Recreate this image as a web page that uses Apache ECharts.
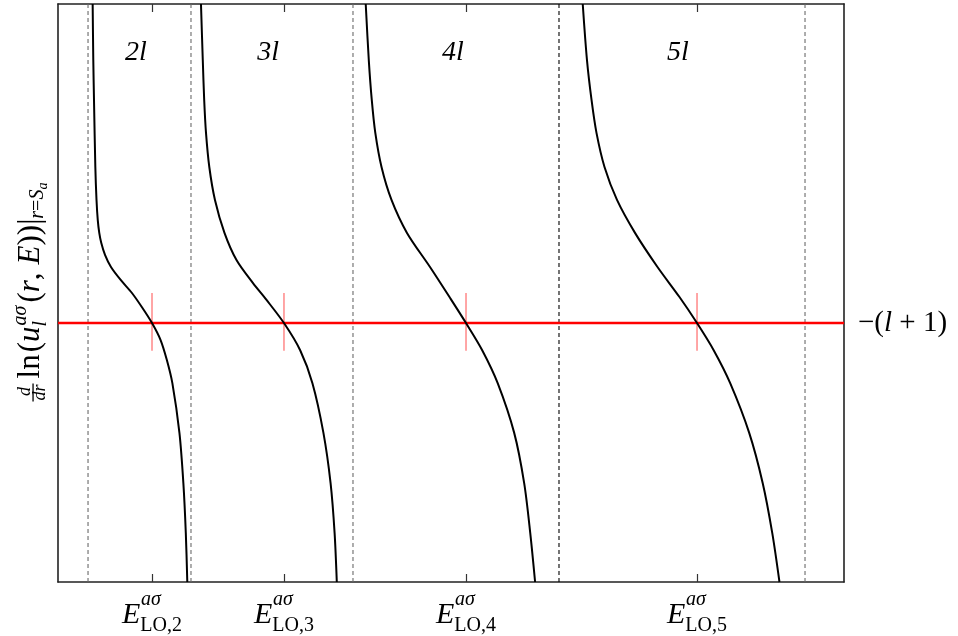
<!DOCTYPE html>
<html>
<head>
<meta charset="utf-8">
<script src="https://cdn.jsdelivr.net/npm/echarts@6/dist/echarts.min.js"></script>
<style>
  html, body { margin: 0; padding: 0; background: #fff; }
  #chart { width: 958px; height: 636px; }
</style>
</head>
<body>
<div id="chart"></div>
<script>
// Energies of the LO reference points (where each branch meets the -(l+1) level)
const loEnergies = [11.96, 28.75, 51.91, 81.30];
const loIndex = ['2', '3', '4', '5'];
// Poles of the logarithmic derivative (dashed verticals)
const poles = [3.82, 16.92, 37.53, 63.74, 95.04];
const poleDark = [false, false, false, true, false];
// Shell labels written inside the plot
const shellLabels = ['2l', '3l', '4l', '5l'];
const shellLabelE = [9.92, 26.72, 50.25, 78.88];
const shellLabelLevel = 4.15;
// Level -(l+1)
const refLevel = -0.52;
// Extent of the small red markers at each crossing
const markerTop = 0.0;
const markerBottom = -1.0;

// Branches of d/dr ln(u) as a function of energy: [E, value]
const branch2 = [[4.41, 5], [4.49, 4.03], [4.58, 3.34], [4.75, 2.18], [4.90, 1.61], [5.06, 1.26], [5.25, 1.04],
  [5.50, 0.87], [5.98, 0.66], [6.74, 0.45], [7.95, 0.23], [9.41, 0], [10.75, -0.26], [11.96, -0.52], [13.04, -0.81],
  [13.85, -1.16], [14.55, -1.56], [15.45, -2.42], [15.95, -3.29], [16.26, -4.15], [16.45, -5]];
const branch3 = [[18.19, 5], [18.42, 4.03], [18.60, 3.34], [18.83, 2.77], [19.25, 2.18], [19.97, 1.61], [21.18, 1.04],
  [22.71, 0.57], [24.81, 0.17], [26.53, -0.12], [28.75, -0.52], [30.81, -0.99], [32.37, -1.56], [33.77, -2.42],
  [34.68, -3.29], [35.19, -4.15], [35.47, -5]];
const branch4 = [[39.15, 5], [39.54, 4.03], [39.92, 3.34], [40.37, 2.77], [41.16, 2.18], [42.43, 1.61], [44.40, 1.04],
  [47.33, 0.45], [49.81, -0.07], [51.91, -0.52], [53.97, -0.99], [55.94, -1.56], [58.04, -2.42], [59.31, -3.29],
  [60.08, -4.15], [60.70, -5]];
const branch5 = [[66.76, 5], [67.30, 4.03], [67.88, 3.34], [68.51, 2.77], [69.53, 2.18], [71.12, 1.61], [73.41, 1.04],
  [76.27, 0.45], [79.07, -0.07], [81.30, -0.52], [83.42, -0.99], [85.52, -1.56], [87.94, -2.42], [89.66, -3.29],
  [90.87, -4.15], [91.79, -5]];

const E_MIN = 0, E_MAX = 100, Y_MIN = -5, Y_MAX = 5;
const SERIF = '"Liberation Serif", "Times New Roman", serif';

// Vertical axis title built from pieces so the fraction and the stacked
// super/subscripts sit where they belong; widths come from the real font.
function buildYTitle() {
  const ctx = document.createElement('canvas').getContext('2d');
  const fontOf = (fs, it) => (it ? 'italic ' : '') + fs + 'px ' + SERIF;
  const width = (t, fs, it) => { ctx.font = fontOf(fs, it); return ctx.measureText(t).width; };
  const kids = [];
  let x = 0;
  const put = (t, fs, it, base, advance = true, at) => {
    const px = at === undefined ? x : at;
    kids.push({
      type: 'text', x: px, y: base - 0.34 * fs,
      style: { text: t, font: fontOf(fs, it), fill: '#000', align: 'left', verticalAlign: 'middle',
        textAlign: 'left', textVerticalAlign: 'middle' }
    });
    const w = width(t, fs, it);
    if (advance) x = px + w;
    return w;
  };
  const M = 31, S = 20, F = 18;
  // d/dr fraction
  const dw = width('dr', F, true);
  put('d', F, true, -10, false, 1 + (dw - width('d', F, true)) / 2 + 1);
  put('dr', F, true, 5, false, 1);
  kids.push({ type: 'rect', shape: { x: 0, y: -8.6, width: dw + 2, height: 1.3 }, style: { fill: '#000' } });
  x = dw + 2 + 5;
  put('ln', M, false, 0);
  x += 2;
  put('(', M, false, 0);
  put('u', M, true, 0);
  const s0 = x;
  const wa = put('aσ', S, true, -13, false, s0 + 1);
  const wl = put('l', S, true, 7, false, s0);
  x = s0 + Math.max(wa + 1, wl) + 3;
  put('(', M, false, 0);
  put('r', M, true, 0);
  put(',', M, false, 0);
  x += 8;
  put('E', M, true, 0);
  put('))', M, false, 0);
  put('|', M, false, 0);
  put('r', S, true, 4);
  put('=', S, false, 4);
  put('S', S, true, 4);
  put('a', 14, true, 7);
  return { type: 'group', x: 41, y: 292 + x / 2, rotation: Math.PI / 2, children: kids };
}

const labelFor = (v) => {
  let k = 0;
  loEnergies.forEach((e, i) => { if (Math.abs(e - v) < Math.abs(loEnergies[k] - v)) k = i; });
  return loIndex[k];
};

const branchSeries = [branch2, branch3, branch4, branch5].map((d, i) => ({
  name: 'branch' + (i + 2), type: 'line', data: d, showSymbol: false, smooth: 0.3,
  lineStyle: { color: '#000', width: 2 }, z: 5, silent: true
}));

const poleSeries = poles.map((p, i) => ({
  type: 'line', data: [[p, Y_MIN], [p, Y_MAX]], showSymbol: false, silent: true, z: 1,
  lineStyle: { color: poleDark[i] ? '#000' : '#6a6a6a', width: 1.1, type: [4, 3] }
}));

const markerSeries = loEnergies.map((e) => ({
  type: 'line', data: [[e, markerTop], [e, markerBottom]], showSymbol: false, silent: true, z: 2,
  lineStyle: { color: '#ff6a6a', width: 1.2 }
}));

const option = {
  animation: false,
  backgroundColor: '#fff',
  grid: { left: 58, right: 114, top: 4, bottom: 54 },
  xAxis: [
    {
      type: 'value', position: 'bottom', min: E_MIN, max: E_MAX,
      axisLine: { onZero: false, lineStyle: { color: '#222', width: 1.6 } },
      axisTick: { show: true, inside: true, length: 8, customValues: loEnergies, lineStyle: { color: '#333', width: 1.2 } },
      splitLine: { show: false },
      axisLabel: {
        show: true, customValues: loEnergies, margin: 12,
        formatter: (v) => '{sup|aσ}\n{E|E}{sub|LO,' + labelFor(v) + '}',
        rich: {
          sup: { fontFamily: SERIF, fontStyle: 'italic', fontSize: 20, color: '#000', align: 'left', padding: [0, 0, 0, 19], lineHeight: 12 },
          E: { fontFamily: SERIF, fontStyle: 'italic', fontSize: 30, color: '#000', lineHeight: 30, verticalAlign: 'bottom', padding: [0, 0, 6, 0] },
          sub: { fontFamily: SERIF, fontSize: 20, color: '#000', lineHeight: 20, verticalAlign: 'bottom' }
        }
      }
    },
    {
      type: 'value', position: 'top', min: E_MIN, max: E_MAX,
      axisLine: { onZero: false, lineStyle: { color: '#222', width: 1.6 } },
      axisTick: { show: true, inside: true, length: 8, customValues: loEnergies, lineStyle: { color: '#333', width: 1.2 } },
      splitLine: { show: false },
      axisLabel: { show: false }
    }
  ],
  yAxis: [
    {
      type: 'value', position: 'left', min: Y_MIN, max: Y_MAX,
      axisLine: { show: true, onZero: false, lineStyle: { color: '#222', width: 1.6 } },
      axisTick: { show: false }, axisLabel: { show: false }, splitLine: { show: false }
    },
    {
      type: 'value', position: 'right', min: Y_MIN, max: Y_MAX,
      axisLine: { show: true, onZero: false, lineStyle: { color: '#222', width: 1.6 } },
      axisTick: { show: false }, splitLine: { show: false },
      axisLabel: {
        show: true, customValues: [refLevel], margin: 14,
        formatter: () => '{n|−(}{i|l}{n| + 1)}',
        rich: {
          n: { fontFamily: SERIF, fontSize: 29, color: '#000' },
          i: { fontFamily: SERIF, fontSize: 29, fontStyle: 'italic', color: '#000' }
        }
      }
    }
  ],
  series: [
    ...poleSeries,
    ...markerSeries,
    {
      name: 'level', type: 'line', data: [[E_MIN, refLevel], [E_MAX, refLevel]], showSymbol: false, silent: true, z: 3,
      lineStyle: { color: '#ff0000', width: 2.6 }
    },
    ...branchSeries,
    {
      name: 'shells', type: 'scatter', symbolSize: 0, silent: true, z: 6,
      itemStyle: { opacity: 1 },
      data: shellLabels.map((s, i) => ({ value: [shellLabelE[i], shellLabelLevel], name: s })),
      label: {
        show: true, position: 'inside', formatter: (p) => p.name, opacity: 1,
        fontFamily: SERIF, fontStyle: 'italic', fontSize: 28, color: '#000'
      }
    }
  ],
  graphic: [buildYTitle()]
};

const chart = echarts.init(document.getElementById('chart'), null, { renderer: 'canvas' });
chart.setOption(option);
</script>
</body>
</html>
